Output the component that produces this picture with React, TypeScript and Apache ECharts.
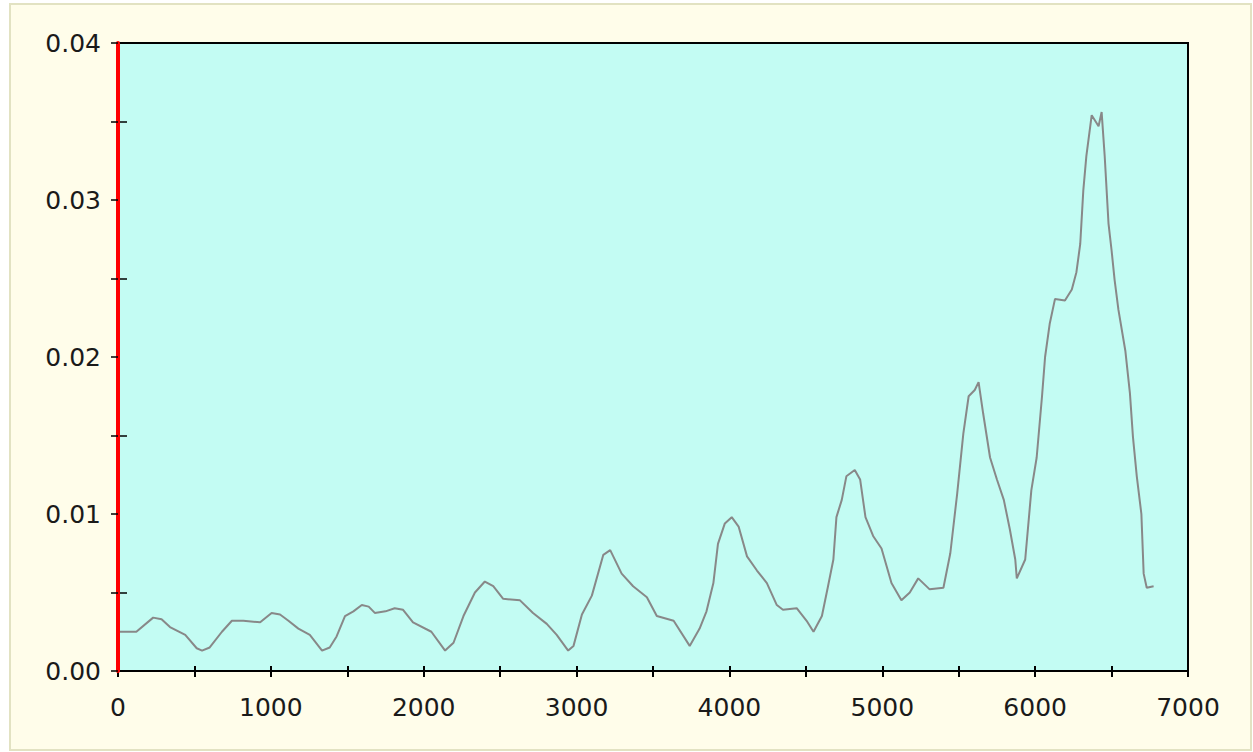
import React, { useEffect, useRef } from "react";
import * as echarts from "echarts";

const xValues = [0, 120, 230, 285, 340, 440, 515, 550, 600, 680, 745, 820, 930, 1005, 1060, 1115, 1180, 1255, 1335, 1385, 1430, 1485, 1540, 1595, 1640, 1680, 1750, 1810, 1865, 1930, 2050, 2140, 2195, 2260, 2335, 2400, 2455, 2520, 2630, 2715, 2805, 2870, 2945, 2980, 3035, 3100, 3175, 3220, 3295, 3370, 3460, 3525, 3635, 3740, 3805, 3850, 3895, 3925, 3970, 4015, 4060, 4115, 4180, 4245, 4310, 4350, 4440, 4505, 4550, 4605, 4645, 4680, 4700, 4735, 4765, 4820, 4855, 4890, 4940, 4995, 5060, 5125, 5180, 5235, 5310, 5400, 5445, 5490, 5530, 5565, 5605, 5630, 5660, 5705, 5750, 5795, 5835, 5870, 5880, 5935, 5975, 6010, 6045, 6065, 6095, 6130, 6195, 6240, 6270, 6295, 6315, 6335, 6370, 6415, 6435, 6455, 6480, 6500, 6520, 6545, 6590, 6620, 6640, 6665, 6695, 6710, 6730, 6775];

const yValues = [0.0025, 0.0025, 0.0034, 0.0033, 0.0028, 0.0023, 0.00145, 0.0013, 0.0015, 0.0025, 0.0032, 0.0032, 0.0031, 0.0037, 0.0036, 0.0032, 0.0027, 0.0023, 0.0013, 0.0015, 0.0022, 0.0035, 0.0038, 0.0042, 0.0041, 0.0037, 0.0038, 0.004, 0.0039, 0.0031, 0.0025, 0.0013, 0.0018, 0.0035, 0.005, 0.0057, 0.0054, 0.0046, 0.0045, 0.0037, 0.003, 0.0023, 0.0013, 0.0016, 0.0036, 0.0048, 0.0074, 0.0077, 0.0062, 0.0054, 0.0047, 0.0035, 0.0032, 0.0016, 0.0027, 0.0038, 0.0056, 0.0081, 0.0094, 0.0098, 0.0092, 0.0073, 0.0064, 0.0056, 0.0042, 0.0039, 0.004, 0.0032, 0.0025, 0.0035, 0.0054, 0.0071, 0.0098, 0.0109, 0.0124, 0.0128, 0.0122, 0.0098, 0.0086, 0.0078, 0.0056, 0.0045, 0.005, 0.0059, 0.0052, 0.0053, 0.0075, 0.0113, 0.0151, 0.0175, 0.0179, 0.0184, 0.0164, 0.0136, 0.0122, 0.0109, 0.009, 0.0071, 0.0059, 0.0071, 0.0115, 0.0136, 0.0175, 0.02, 0.0221, 0.0237, 0.0236, 0.0243, 0.0254, 0.0272, 0.0306, 0.0328, 0.0354, 0.0347, 0.0356, 0.0328, 0.0285, 0.0268, 0.0249, 0.023, 0.0204, 0.0177, 0.0149, 0.0124, 0.01, 0.0062, 0.0053, 0.0054];

const xMin = 0;
const xMax = 7000;
const xInterval = 1000;
const yMin = 0;
const yMax = 0.04;
const yInterval = 0.01;

const FONT = "DejaVu Sans";

export default function App() {
  const ref = useRef<HTMLDivElement>(null);

  useEffect(() => {
    if (!ref.current) return;
    const chart = echarts.init(ref.current, null, { renderer: "svg" });
    const data = xValues.map((x, i) => [x, yValues[i]]);
    const labelStyle = { color: "#1a1a1a", fontFamily: FONT, fontSize: 25 };
    const gridBox = { left: 118, top: 43, right: 65, bottom: 81 };
    chart.setOption({
      animation: false,
      backgroundColor: "#ffffff",
      graphic: [
        {
          type: "rect",
          z: -10,
          shape: { x: 10, y: 4, width: 1241, height: 746 },
          style: { fill: "#FFFDEA", stroke: "#E2E2C2", lineWidth: 2 },
        },
      ],
      grid: [
        {
          ...gridBox,
          show: true,
          backgroundColor: "#C3FCF3",
          borderColor: "#000000",
          borderWidth: 2,
        },
        { ...gridBox, show: false },
      ],
      xAxis: [
        {
          type: "value",
          gridIndex: 0,
          min: xMin,
          max: xMax,
          interval: xInterval,
          position: "bottom",
          axisLine: { show: true, lineStyle: { color: "#000", width: 2 } },
          axisTick: { show: true, length: 6, lineStyle: { color: "#000", width: 2 } },
          minorTick: { show: true, splitNumber: 2, length: 6, lineStyle: { color: "#000", width: 2 } },
          axisLabel: { ...labelStyle, margin: 24, formatter: (v: number) => String(v) },
          splitLine: { show: false },
        },
        {
          type: "value",
          gridIndex: 1,
          min: xMin,
          max: xMax,
          interval: xInterval,
          position: "bottom",
          axisLine: { show: false },
          axisTick: { show: true, inside: true, length: 5, lineStyle: { color: "#000", width: 2 } },
          minorTick: { show: true, splitNumber: 2, length: 5, lineStyle: { color: "#000", width: 2 } },
          axisLabel: { show: false },
          splitLine: { show: false },
        },
      ],
      yAxis: [
        {
          type: "value",
          gridIndex: 0,
          min: yMin,
          max: yMax,
          interval: yInterval,
          position: "left",
          axisLine: { show: true, lineStyle: { color: "#FF0000", width: 4 } },
          axisTick: { show: true, length: 7, lineStyle: { color: "#000", width: 1.5 } },
          minorTick: { show: true, splitNumber: 2, length: 7, lineStyle: { color: "#000", width: 1.5 } },
          axisLabel: { ...labelStyle, margin: 17, formatter: (v: number) => v.toFixed(2) },
          splitLine: { show: false },
          z: 5,
        },
        {
          type: "value",
          gridIndex: 1,
          min: yMin,
          max: yMax,
          interval: yInterval,
          position: "left",
          axisLine: { show: false },
          axisTick: { show: false, inside: true },
          minorTick: { show: true, splitNumber: 2, length: 9, lineStyle: { color: "#000", width: 1.5 } },
          axisLabel: { show: false },
          splitLine: { show: false },
        },
      ],
      series: [
        {
          type: "line",
          xAxisIndex: 0,
          yAxisIndex: 0,
          data,
          showSymbol: false,
          symbol: "none",
          lineStyle: { color: "#888888", width: 2 },
          z: 3,
        },
      ],
    });
    return () => chart.dispose();
  }, []);

  return (
    <div
      ref={ref}
      style={{ position: "absolute", left: 0, top: 0, width: 1253, height: 752 }}
    />
  );
}
